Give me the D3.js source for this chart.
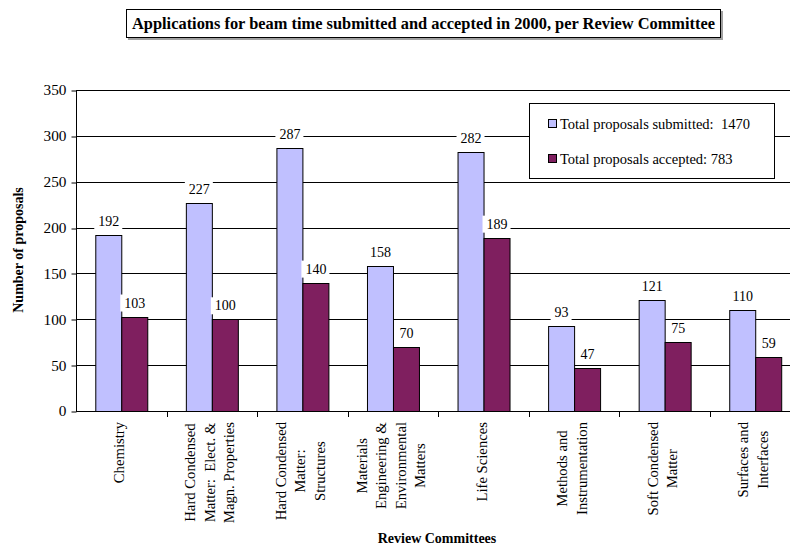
<!DOCTYPE html>
<html>
<head>
<meta charset="utf-8">
<script src="https://cdn.jsdelivr.net/npm/d3@7"></script>
<style>
  html, body { margin: 0; padding: 0; background: #fff; }
  svg { display: block; }
  svg text { font-family: "Liberation Serif", "Times New Roman", serif; white-space: pre; fill: #000; }
</style>
</head>
<body>
<svg id="chart" width="790" height="546"></svg>
<script>
// Beam time applications per review committee, 2000.
const committees = [
  ["Chemistry"],
  ["Hard Condensed", "Matter:  Elect. &", "Magn. Properties"],
  ["Hard Condensed", "Matter:", "Structures"],
  ["Materials", "Engineering &", "Environmental", "Matters"],
  ["Life Sciences"],
  ["Methods and", "Instrumentation"],
  ["Soft Condensed", "Matter"],
  ["Surfaces and", "Interfaces"],
];
const submitted = [192, 227, 287, 158, 282, 93, 121, 110];
const accepted = [103, 100, 140, 70, 189, 47, 75, 59];
const seriesNames = ["Total proposals submitted:  1470", "Total proposals accepted: 783"];
const yTicks = [0, 50, 100, 150, 200, 250, 300, 350];

const COLORS = ["#c0c0ff", "#7f1f5f"];

const svg = d3.select("#chart");
const plot = { left: 76, right: 800.5, top: 90, bottom: 411 };

const keys = committees.map((c) => c.join(" "));
const x = d3.scaleBand().domain(keys).range([plot.left, plot.right]).padding(0);
const bw = x.bandwidth();
const x1 = d3.scaleBand().domain([0, 1]).range([bw * 0.213, bw * 0.787]).padding(0);
const y = d3.scaleLinear().domain([0, 350]).range([plot.bottom, plot.top]);
const py = (v) => Math.round(y(v)) + 0.5;

// gridlines
svg.append("g")
  .selectAll("line")
  .data(yTicks.filter((t) => t > 0))
  .join("line")
  .attr("x1", plot.left).attr("x2", plot.right)
  .attr("y1", py).attr("y2", py)
  .attr("stroke", "#000").attr("stroke-width", 1);

// bars
const rows = keys.map((k, i) => ({ k, vals: [submitted[i], accepted[i]] }));
const grp = svg.append("g").selectAll("g")
  .data(rows)
  .join("g")
  .attr("transform", (d) => `translate(${x(d.k)},0)`);

grp.selectAll("rect")
  .data((d) => d.vals.map((v, s) => ({ v, s })))
  .join("rect")
  .attr("x", (d) => x1(d.s) + 0.5)
  .attr("width", x1.bandwidth())
  .attr("y", (d) => py(d.v))
  .attr("height", (d) => Math.round(y(0)) - Math.round(y(d.v)))
  .attr("fill", (d) => COLORS[d.s])
  .attr("stroke", "#000").attr("stroke-width", 1);

// value labels with white backing
const labels = svg.append("g");
rows.forEach((d) => {
  d.vals.forEach((v, s) => {
    const cx = x(d.k) + x1(s) + x1.bandwidth() / 2 + 0.5;
    const by = y(v) - 9;
    const t = labels.append("text")
      .attr("x", cx).attr("y", by)
      .attr("text-anchor", "middle")
      .attr("font-size", 14)
      .text(v);
    const w = t.node().getComputedTextLength();
    labels.insert("rect", "text")
      .attr("x", cx - w / 2 - 4).attr("y", by - 13)
      .attr("width", w + 7).attr("height", 17)
      .attr("fill", "#fff");
  });
});

// y axis
const yAxis = svg.append("g")
  .attr("transform", `translate(${plot.left + 0.5},0)`)
  .call(d3.axisLeft(y).tickValues(yTicks).tickSize(5).tickPadding(5).tickFormat(d3.format("d")));
yAxis.attr("font-family", null);
yAxis.select(".domain").attr("d", `M0,${plot.top}V${plot.bottom + 0.5}`);
yAxis.selectAll(".tick line").attr("transform", (d) => `translate(0,${py(d) - y(d)})`);
yAxis.selectAll("text").attr("font-size", 15.3);

// x axis line and ticks at category boundaries
svg.append("line")
  .attr("x1", plot.left).attr("x2", plot.right)
  .attr("y1", plot.bottom + 0.5).attr("y2", plot.bottom + 0.5)
  .attr("stroke", "#000");
svg.append("g").selectAll("line")
  .data(keys.slice(1))
  .join("line")
  .attr("x1", (d) => Math.round(x(d)) + 0.5).attr("x2", (d) => Math.round(x(d)) + 0.5)
  .attr("y1", plot.bottom).attr("y2", plot.bottom + 6)
  .attr("stroke", "#000");

// category labels, rotated, block top-aligned, lines centered
committees.forEach((lines, i) => {
  const cx = x(keys[i]) + bw / 2;
  const t = svg.append("text")
    .attr("text-anchor", "middle")
    .attr("font-size", 14.7);
  lines.forEach((ln, j) => {
    t.append("tspan")
      .attr("x", 0)
      .attr("y", (j - (lines.length - 1) / 2) * 19.5 + 5)
      .text(ln);
  });
  let maxW = 0;
  t.selectAll("tspan").each(function () { maxW = Math.max(maxW, this.getComputedTextLength()); });
  t.attr("transform", `translate(${cx - 2},${422 + maxW / 2}) rotate(-90)`);
});

// axis titles
svg.append("text")
  .attr("transform", `translate(23,250) rotate(-90)`)
  .attr("text-anchor", "middle")
  .attr("font-size", 14).attr("font-weight", "bold")
  .text("Number of proposals");
svg.append("text")
  .attr("x", 437).attr("y", 543)
  .attr("text-anchor", "middle")
  .attr("font-size", 14).attr("font-weight", "bold")
  .text("Review Committees");

// title box
svg.append("rect")
  .attr("x", 128).attr("y", 11).attr("width", 595).attr("height", 29)
  .attr("fill", "#a0a0a0");
svg.append("rect")
  .attr("x", 126.5).attr("y", 9.5).attr("width", 594).attr("height", 28)
  .attr("fill", "#fff").attr("stroke", "#000");
svg.append("text")
  .attr("x", 423.5).attr("y", 29)
  .attr("text-anchor", "middle")
  .attr("font-size", 16.4).attr("font-weight", "bold")
  .text("Applications for beam time submitted and accepted in 2000, per Review Committee");

// legend
const lg = svg.append("g");
lg.append("rect")
  .attr("x", 529.5).attr("y", 103.5).attr("width", 245).attr("height", 75)
  .attr("fill", "#fff").attr("stroke", "#000");
seriesNames.forEach((name, i) => {
  const cy = 124 + i * 35;
  lg.append("rect")
    .attr("x", 548.5).attr("y", cy - 4.5).attr("width", 8).attr("height", 8)
    .attr("fill", COLORS[i]).attr("stroke", "#000");
  lg.append("text")
    .attr("x", 560).attr("y", cy + 5)
    .attr("font-size", 14.5)
    .text(name);
});
</script>
</body>
</html>
